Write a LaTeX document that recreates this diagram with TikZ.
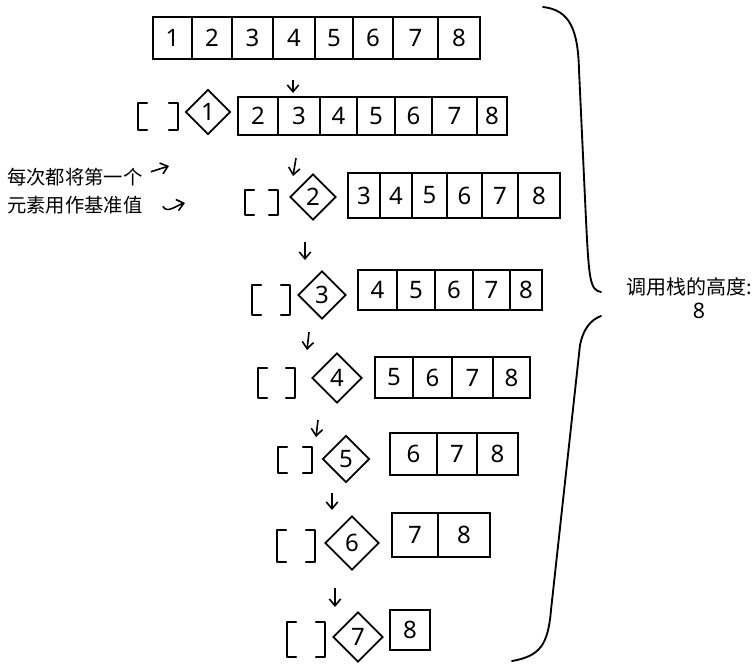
\documentclass[tikz,border=0pt]{standalone}
\usepackage{fontspec}
\setmainfont{Noto Sans}
\newfontfamily\cjk{Noto Sans CJK SC}
\usetikzlibrary{arrows.meta,shapes.geometric}
\tikzset{
  cell/.style={rectangle, draw, line width=1.4pt, inner sep=0pt, font=\fontsize{18}{18}\selectfont},
  pivot/.style={diamond, draw, line width=1.4pt, inner sep=0pt, aspect=1, font=\fontsize{18}{18}\selectfont},
  empty/.style={rectangle, inner sep=0pt},
  bracket/.style={line width=1.4pt, line cap=round, line join=round},
  down/.style={-{Straight Barb[length=1.8mm,width=3mm]}, line width=1.2pt},
  note/.style={font=\cjk\fontsize{14.5}{21}\selectfont, align=left, inner sep=0pt}
}
% one row of cells: name, top, bottom, {left/right/label,...}
\newcommand{\cellrow}[4]{%
  \foreach \xa/\xb/\lab [count=\i] in {#4}
    \node[cell, minimum width={(\xb-\xa)*0.75pt}, minimum height={(#3-#2)*0.75pt}]
      (#1\i) at ({(\xa+\xb)/2},{(#2+#3)/2}) {\lab};
}
\begin{document}
\begin{tikzpicture}[x=0.75pt, y=-0.75pt]
\useasboundingbox (0,0) rectangle (756,664);
% arrays
\cellrow{a}{17}{59}{153/192/1,192/232/2,232/273/3,273/315/4,315/353/5,353/393/6,393/438/7,438/480/8}
\cellrow{b}{97}{135}{238/278/2,278/320/3,320/357/4,357/395/5,395/432/6,432/477/7,477/507/8}
\cellrow{c}{173}{218}{348/380/3,380/412/4,412/447/5,447/482/6,482/518/7,518/560/8}
\cellrow{d}{270}{310}{358/397/4,397/435/5,435/473/6,473/510/7,510/542/8}
\cellrow{e}{357}{398}{375/413/5,413/452/6,452/493/7,493/530/8}
\cellrow{f}{433}{475}{390/437/6,437/477/7,477/518/8}
\cellrow{g}{513}{557}{392/438/7,438/490/8}
\cellrow{h}{610}{650}{390/430/8}
% pivots and empty left parts
\foreach \n/\px/\py/\sz/\ex/\ey/\ew/\eh in {1/208/112/45/158/116.5/40/27, 2/313/197/46/261.5/202.5/33/25,
    3/322/295/48/271/300/38/30, 4/337/378/50/276.5/383/37/30, 5/346/459/47/295/460/34/26,
    6/352/543/54/296/546/38/32, 7/358/637/50/306/639.5/38/35} {
  \node[pivot, minimum size=\sz*0.75pt] (p\n) at (\px,\py) {\n};
  \node[empty, minimum width=\ew*0.75pt, minimum height=\eh*0.75pt] (l\n) at (\ex,\ey) {};
  \draw[bracket] ([xshift=7pt]l\n.north west) -| (l\n.south west) -- ++(7pt,0);
  \draw[bracket] ([xshift=-7pt]l\n.north east) -| (l\n.south east) -- ++(-7pt,0);
}
% step arrows
\foreach \k/\xa/\ya/\xb/\yb in {1/293/80/293/93, 2/296/158/293/176, 3/305/242/305/260,
    4/309/332/307/350, 5/318/420/316/437, 6/332/493/332/510, 7/335/588/335/607} {
  \coordinate (s\k) at (\xa,\ya);
  \coordinate (t\k) at (\xb,\yb);
  \draw[down] (s\k) -- (t\k);
}
% note on the left
\node[note, anchor=west] (tip) at (7,191) {每次都将第一个\\元素用作基准值};
\coordinate (tipa) at (169,166);
\coordinate (tipb) at (185,203);
\draw[down] ([xshift=6pt,yshift=-3pt]tip.north east) -- (tipa);
\draw[down] ([xshift=15pt,yshift=6pt]tip.south east) .. controls +(4,8) and +(-8,2) .. (tipb);
% brace and call-stack height
\draw[bracket]
  (543,7) .. controls (570,10) and (578,30) .. (579,70) -- (586,220)
  .. controls (589,280) and (590,290) .. (601,292);
\draw[bracket]
  (601,316) .. controls (590,320) and (583,330) .. (580,345) -- (551,610)
  .. controls (548,645) and (540,656) .. (512,661);
\node[note, anchor=west, font=\cjk\fontsize{15}{15}\selectfont] (height) at (626,287) {调用栈的高度:};
\node[font=\fontsize{16}{16}\selectfont] (depth) at (699,311) {8};
\end{tikzpicture}
\end{document}
